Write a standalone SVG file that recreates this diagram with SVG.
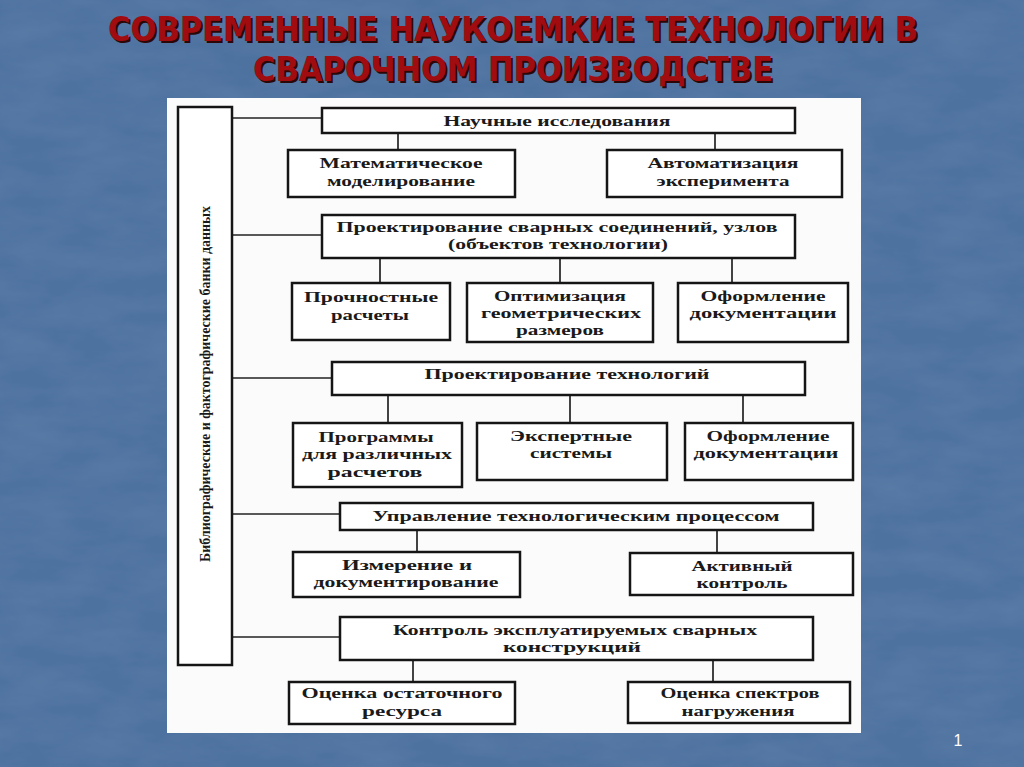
<svg xmlns="http://www.w3.org/2000/svg" width="1024" height="767" viewBox="0 0 1024 767">
<defs>
<style>
.box{fill:#fff;stroke:#151515;stroke-width:2.5}
.ln{stroke:#222;stroke-width:1.7;fill:none}
.t{font-family:"Liberation Serif",serif;font-weight:bold;font-size:15px;fill:#1a1a1a;text-anchor:middle}
.title{font-family:"DejaVu Sans","Verdana",sans-serif;font-weight:bold;font-size:33px;text-anchor:middle}
</style>
<filter id="tex" x="0" y="0" width="100%" height="100%">
<feTurbulence type="fractalNoise" baseFrequency="0.015 0.04" numOctaves="4" seed="3" result="n"/>
<feColorMatrix in="n" type="matrix" values="0 0 0 0 1  0 0 0 0 1  0 0 0 0 1  0 0 0 0.3 -0.08"/>
</filter>
</defs>
<rect x="0" y="0" width="1024" height="767" fill="#4e72a0"/>
<rect x="0" y="0" width="1024" height="767" filter="url(#tex)" opacity="0.3"/>
<g id="title">
<text class="title" x="515" y="43" fill="#2a0808" textLength="810" lengthAdjust="spacingAndGlyphs">СОВРЕМЕННЫЕ НАУКОЕМКИЕ ТЕХНОЛОГИИ В</text>
<text class="title" x="515" y="83" fill="#2a0808" textLength="520" lengthAdjust="spacingAndGlyphs">СВАРОЧНОМ ПРОИЗВОДСТВЕ</text>
<text class="title" x="513" y="41" fill="#a00c10" textLength="810" lengthAdjust="spacingAndGlyphs">СОВРЕМЕННЫЕ НАУКОЕМКИЕ ТЕХНОЛОГИИ В</text>
<text class="title" x="513" y="81" fill="#a00c10" textLength="520" lengthAdjust="spacingAndGlyphs">СВАРОЧНОМ ПРОИЗВОДСТВЕ</text>
</g>
<rect id="panel" x="167" y="98" width="694" height="635" fill="#fbfbfb"/>
<g id="connectors">
<line class="ln" x1="232" y1="118" x2="322" y2="118"/>
<line class="ln" x1="232" y1="235" x2="322" y2="235"/>
<line class="ln" x1="232" y1="378" x2="332" y2="378"/>
<line class="ln" x1="232" y1="514" x2="340" y2="514"/>
<line class="ln" x1="232" y1="637" x2="340" y2="637"/>
<line class="ln" x1="398" y1="133" x2="398" y2="150"/>
<line class="ln" x1="715" y1="133" x2="715" y2="150"/>
<line class="ln" x1="380" y1="258" x2="380" y2="283"/>
<line class="ln" x1="560" y1="258" x2="560" y2="283"/>
<line class="ln" x1="732" y1="258" x2="732" y2="283"/>
<line class="ln" x1="388" y1="395" x2="388" y2="423"/>
<line class="ln" x1="570" y1="395" x2="570" y2="423"/>
<line class="ln" x1="743" y1="395" x2="743" y2="423"/>
<line class="ln" x1="417" y1="530" x2="417" y2="552"/>
<line class="ln" x1="717" y1="530" x2="717" y2="553"/>
<line class="ln" x1="413" y1="660" x2="413" y2="682"/>
<line class="ln" x1="713" y1="660" x2="713" y2="682"/>
</g>
<g id="databank">
<rect class="box" x="178" y="107" width="54" height="558"/>
<text class="t" transform="translate(210,384) rotate(-90)" font-size="14" textLength="356" lengthAdjust="spacingAndGlyphs">Библиографические и фактографические банки данных</text>
</g>
<g id="n-research">
<rect class="box" x="322" y="108" width="473" height="25"/>
<text class="t" x="557" y="126" textLength="227" lengthAdjust="spacingAndGlyphs">Научные исследования</text>
</g>
<g id="n-math">
<rect class="box" x="288" y="150" width="227" height="47"/>
<text class="t" x="401" y="168" textLength="163" lengthAdjust="spacingAndGlyphs">Математическое</text>
<text class="t" x="401" y="186" textLength="148" lengthAdjust="spacingAndGlyphs">моделирование</text>
</g>
<g id="n-auto">
<rect class="box" x="607" y="150" width="235" height="47"/>
<text class="t" x="723" y="168" textLength="151" lengthAdjust="spacingAndGlyphs">Автоматизация</text>
<text class="t" x="723" y="186" textLength="133" lengthAdjust="spacingAndGlyphs">эксперимента</text>
</g>
<g id="n-joints">
<rect class="box" x="322" y="215" width="473" height="43"/>
<text class="t" x="557" y="232" textLength="441" lengthAdjust="spacingAndGlyphs">Проектирование сварных соединений, узлов</text>
<text class="t" x="558" y="249" textLength="220" lengthAdjust="spacingAndGlyphs">(объектов технологии)</text>
</g>
<g id="n-strength">
<rect class="box" x="292" y="283" width="158" height="57"/>
<text class="t" x="371" y="302" textLength="134" lengthAdjust="spacingAndGlyphs">Прочностные</text>
<text class="t" x="370" y="320" textLength="78" lengthAdjust="spacingAndGlyphs">расчеты</text>
</g>
<g id="n-optim">
<rect class="box" x="467" y="283" width="186" height="59"/>
<text class="t" x="560" y="301" textLength="132" lengthAdjust="spacingAndGlyphs">Оптимизация</text>
<text class="t" x="561" y="318" textLength="160" lengthAdjust="spacingAndGlyphs">геометрических</text>
<text class="t" x="560" y="335" textLength="88" lengthAdjust="spacingAndGlyphs">размеров</text>
</g>
<g id="n-doc1">
<rect class="box" x="678" y="283" width="170" height="59"/>
<text class="t" x="763" y="301" textLength="125" lengthAdjust="spacingAndGlyphs">Оформление</text>
<text class="t" x="763" y="318" textLength="147" lengthAdjust="spacingAndGlyphs">документации</text>
</g>
<g id="n-techdesign">
<rect class="box" x="332" y="362" width="473" height="33"/>
<text class="t" x="567" y="379" textLength="285" lengthAdjust="spacingAndGlyphs">Проектирование технологий</text>
</g>
<g id="n-programs">
<rect class="box" x="293" y="423" width="169" height="64"/>
<text class="t" x="376" y="442" textLength="115" lengthAdjust="spacingAndGlyphs">Программы</text>
<text class="t" x="377" y="459" textLength="150" lengthAdjust="spacingAndGlyphs">для различных</text>
<text class="t" x="375" y="477" textLength="95" lengthAdjust="spacingAndGlyphs">расчетов</text>
</g>
<g id="n-expert">
<rect class="box" x="477" y="423" width="190" height="57"/>
<text class="t" x="571" y="441" textLength="122" lengthAdjust="spacingAndGlyphs">Экспертные</text>
<text class="t" x="571" y="458" textLength="82" lengthAdjust="spacingAndGlyphs">системы</text>
</g>
<g id="n-doc2">
<rect class="box" x="685" y="423" width="168" height="57"/>
<text class="t" x="768" y="441" textLength="123" lengthAdjust="spacingAndGlyphs">Оформление</text>
<text class="t" x="766" y="458" textLength="145" lengthAdjust="spacingAndGlyphs">документации</text>
</g>
<g id="n-control-proc">
<rect class="box" x="340" y="503" width="473" height="27"/>
<text class="t" x="576" y="521" textLength="407" lengthAdjust="spacingAndGlyphs">Управление технологическим процессом</text>
</g>
<g id="n-measure">
<rect class="box" x="293" y="552" width="227" height="45"/>
<text class="t" x="407" y="570" textLength="130" lengthAdjust="spacingAndGlyphs">Измерение и</text>
<text class="t" x="406" y="587" textLength="185" lengthAdjust="spacingAndGlyphs">документирование</text>
</g>
<g id="n-active">
<rect class="box" x="630" y="553" width="223" height="42"/>
<text class="t" x="742" y="571" textLength="101" lengthAdjust="spacingAndGlyphs">Активный</text>
<text class="t" x="742" y="588" textLength="91" lengthAdjust="spacingAndGlyphs">контроль</text>
</g>
<g id="n-monitor">
<rect class="box" x="340" y="617" width="473" height="43"/>
<text class="t" x="575" y="635" textLength="364" lengthAdjust="spacingAndGlyphs">Контроль эксплуатируемых сварных</text>
<text class="t" x="572" y="652" textLength="138" lengthAdjust="spacingAndGlyphs">конструкций</text>
</g>
<g id="n-residual">
<rect class="box" x="289" y="682" width="226" height="42"/>
<text class="t" x="402" y="698" textLength="201" lengthAdjust="spacingAndGlyphs">Оценка остаточного</text>
<text class="t" x="402" y="716" textLength="80" lengthAdjust="spacingAndGlyphs">ресурса</text>
</g>
<g id="n-spectra">
<rect class="box" x="628" y="682" width="222" height="41"/>
<text class="t" x="740" y="698" textLength="159" lengthAdjust="spacingAndGlyphs">Оценка спектров</text>
<text class="t" x="738" y="716" textLength="113" lengthAdjust="spacingAndGlyphs">нагружения</text>
</g>
<text x="958" y="746" font-family="Liberation Sans, Arial, sans-serif" font-size="16" fill="#ffffff" text-anchor="middle">1</text>
</svg>
